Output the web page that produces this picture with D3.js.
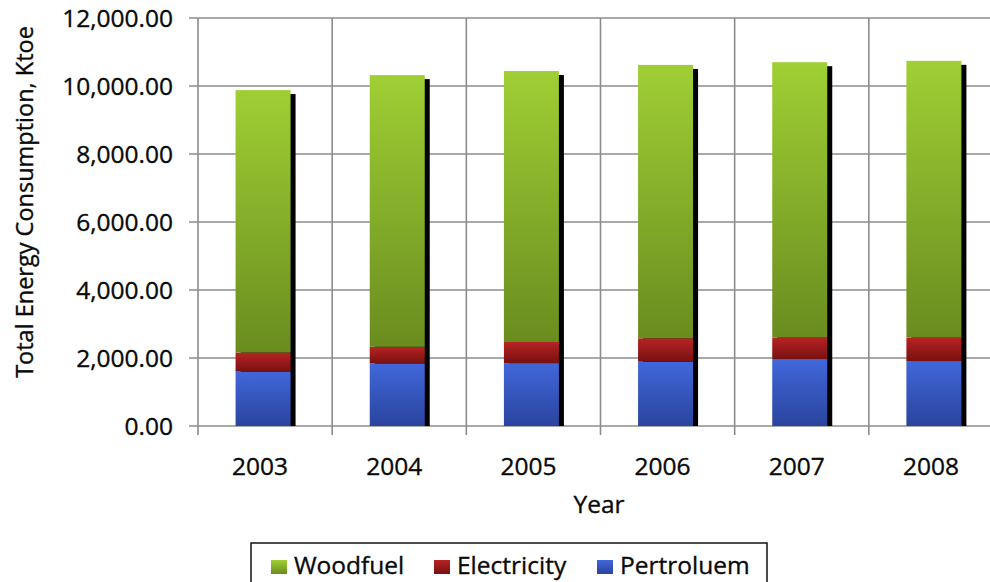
<!DOCTYPE html>
<html>
<head>
<meta charset="utf-8">
<script src="https://cdn.jsdelivr.net/npm/d3@7"></script>
<style>
  html, body { margin: 0; padding: 0; background: #fff; }
  svg { display: block; font-family: "Open Sans", "Noto Sans", sans-serif; }
  svg text { stroke: #0a0a0a; stroke-width: 0.35px; }
</style>
</head>
<body>
<svg id="chart" width="990" height="582"></svg>
<script>
// Energy consumption by source, Ktoe
const years = ["2003", "2004", "2005", "2006", "2007", "2008"];
const petroleum = [1600, 1840, 1850, 1890, 1970, 1910];
const electricity = [560, 490, 620, 690, 630, 690];
const woodfuel = [7720, 7990, 7970, 8040, 8100, 8140];
const yTicks = [0, 2000, 4000, 6000, 8000, 10000, 12000];
const seriesNames = ["Pertroluem", "Electricity", "Woodfuel"];
const legendOrder = ["Woodfuel", "Electricity", "Pertroluem"];

const rows = years.map((y, i) => ({
  year: y,
  Pertroluem: petroleum[i],
  Electricity: electricity[i],
  Woodfuel: woodfuel[i]
}));

const svg = d3.select("#chart");
const plotLeft = 198, plotRight = 1003, plotTop = 18, plotBottom = 426;
const fontSize = 24.5;
const textColor = "#0a0a0a";

const x = d3.scaleBand().domain(years).range([plotLeft, plotRight]).padding(0);
const y = d3.scaleLinear().domain([0, 12000]).range([plotBottom, plotTop]);

const defs = svg.append("defs");
const gradStops = {
  Woodfuel: ["#9fcf34", "#6a8c1f"],
  Electricity: ["#b82323", "#781111"],
  Pertroluem: ["#4167da", "#2a449e"]
};
Object.entries(gradStops).forEach(([k, c]) => {
  const g = defs.append("linearGradient")
    .attr("id", "g-" + k).attr("x1", 0).attr("y1", 0).attr("x2", 0).attr("y2", 1);
  g.append("stop").attr("offset", "0%").attr("stop-color", c[0]);
  g.append("stop").attr("offset", "100%").attr("stop-color", c[1]);
});

const gridColor = "#8c8c8c";

// horizontal gridlines with tick stubs
svg.append("g").selectAll("line").data(yTicks).join("line")
  .attr("x1", plotLeft - 9).attr("x2", 990)
  .attr("y1", d => y(d)).attr("y2", d => y(d))
  .attr("stroke", gridColor).attr("stroke-width", 1.6);

// vertical gridlines at category boundaries
const bounds = years.map(d => x(d)).concat([plotRight]);
svg.append("g").selectAll("line").data(bounds).join("line")
  .attr("x1", d => d).attr("x2", d => d)
  .attr("y1", plotTop).attr("y2", plotBottom + 9)
  .attr("stroke", gridColor).attr("stroke-width", 1.6);

// y tick labels
svg.append("g").selectAll("text").data(yTicks).join("text")
  .attr("x", plotLeft - 25).attr("y", d => y(d))
  .attr("dy", "0.35em").attr("text-anchor", "end")
  .attr("font-size", fontSize).attr("fill", textColor)
  .text(d => d3.format(",.2f")(d));

// x tick labels
svg.append("g").selectAll("text").data(years).join("text")
  .attr("x", d => x(d) + x.bandwidth() / 2 - 5).attr("y", 475)
  .attr("text-anchor", "middle").attr("font-size", fontSize).attr("fill", textColor)
  .text(d => d);

// axis titles
svg.append("text").attr("x", 599).attr("y", 513).attr("text-anchor", "middle")
  .attr("font-size", fontSize).attr("fill", textColor).text("Year");
svg.append("text")
  .attr("transform", "translate(33,202) rotate(-90)")
  .attr("text-anchor", "middle").attr("font-size", 23.5).attr("fill", textColor)
  .text("Total Energy Consumption,  Ktoe");

// stacked bars
const stack = d3.stack().keys(seriesNames)(rows);
const bw = x.bandwidth() * 0.41;
const bx = d => x(d.data.year) + x.bandwidth() * 0.28;

// drop shadow behind each full column
const totals = stack[stack.length - 1];
svg.append("g").selectAll("rect").data(totals).join("rect")
  .attr("x", d => bx(d) + 5).attr("y", d => y(d[1]) + 4)
  .attr("width", bw).attr("height", d => plotBottom - y(d[1]) - 4)
  .attr("fill", "#000");

svg.append("g").selectAll("g").data(stack).join("g")
  .attr("fill", s => "url(#g-" + s.key + ")")
  .selectAll("rect").data(s => s).join("rect")
  .attr("x", bx).attr("width", bw)
  .attr("y", d => y(d[1])).attr("height", d => y(d[0]) - y(d[1]));

// legend
const lg = svg.append("g");
lg.append("rect").attr("x", 251).attr("y", 543).attr("width", 516).attr("height", 50)
  .attr("fill", "#fff").attr("stroke", "#111").attr("stroke-width", 1.5);
const legX = [271, 434, 597];
legendOrder.forEach((k, i) => {
  lg.append("rect").attr("x", legX[i]).attr("y", 560).attr("width", 16).attr("height", 14)
    .attr("fill", "url(#g-" + k + ")");
  lg.append("text").attr("x", legX[i] + 23).attr("y", 574)
    .attr("font-size", fontSize).attr("fill", textColor).text(k);
});
</script>
</body>
</html>
